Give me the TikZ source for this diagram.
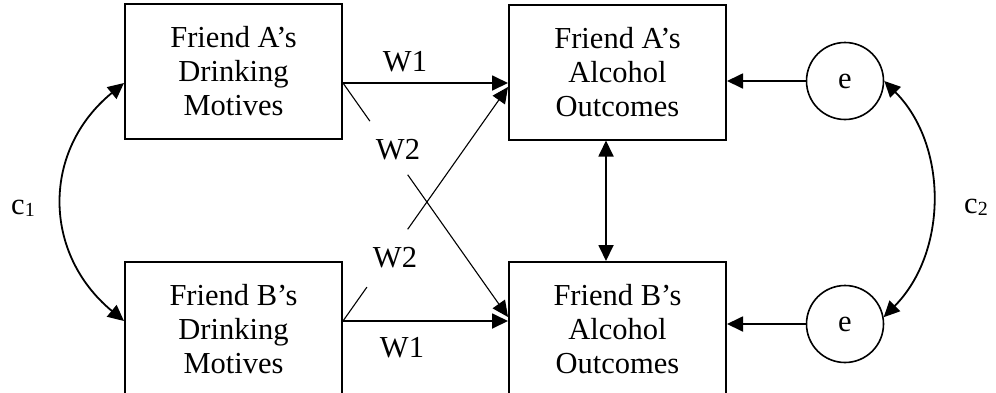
\documentclass[tikz,border=0pt]{standalone}
\usepackage{fontspec}
\setmainfont{Liberation Serif}
\usetikzlibrary{arrows.meta,calc}
\begin{document}
\begin{tikzpicture}[x=1pt,y=-1pt,
  txt/.style={font=\fontsize{30.5}{34}\selectfont},
  box/.style={txt,draw,line width=2pt,minimum width=217pt,minimum height=135pt,align=center,inner sep=0pt},
  err/.style={txt,draw,circle,line width=1.6pt,minimum size=77pt,inner sep=0pt},
  lbl/.style={txt,inner sep=0pt},
  tip/.tip={Triangle[length=16pt,width=15pt]},
  arr/.style={line width=1.8pt,-tip},
  dbl/.style={line width=1.8pt,tip-tip},
  thinarr/.style={line width=1.1pt,-tip},
  thinline/.style={line width=1.1pt}]
\useasboundingbox (0,0) rectangle (996,392);
\clip (0,0) rectangle (996,392);

% observed variables
\node[box] (A) at (233.5,71.5) {Friend A’s\\Drinking\\Motives};
\node[box] (B) at (233.5,329.5) {Friend B’s\\Drinking\\Motives};
\node[box] (C) at (617.5,72) {Friend A’s\\Alcohol\\Outcomes};
\node[box] (D) at (617.5,329.5) {Friend B’s\\Alcohol\\Outcomes};

% residuals
\node[err] (eA) at (845,81) {e};
\node[err] (eB) at (845,324) {e};

% path labels
\node[lbl] (w1a) at (405,62) {W1};
\node[lbl] (w2a) at (398,150) {W2};
\node[lbl] (w2b) at (395,258) {W2};
\node[lbl] (w1b) at (402,348) {W1};
\node[lbl] (c1) at (23,208) {c\raisebox{-2pt}{\fontsize{20}{20}\selectfont 1}};
\node[lbl] (c2) at (976,207) {c\raisebox{-2pt}{\fontsize{20}{20}\selectfont 2}};

% attachment points
\coordinate (Aout) at (A.east |- 0,83);
\coordinate (Bout) at (B.east |- 0,321);
\coordinate (Ain) at (A.west |- 0,83);
\coordinate (Bin) at (B.west |- 0,321);
\coordinate (Cin) at (C.west |- 0,83);
\coordinate (Din) at (D.west |- 0,321);
\coordinate (Cx) at (C.west |- 0,87);
\coordinate (Dx) at (D.west |- 0,317);
\coordinate (vx) at (606,0);

% actor and partner effects
\draw[arr] (Aout) -- (Cin);
\draw[arr] (Bout) -- (Din);
\draw[thinline] (Aout) -- ($(Aout)!0.163!(Dx)$);
\draw[thinarr] ($(Aout)!0.392!(Dx)$) -- (Dx);
\draw[thinline] (Bout) -- ($(Bout)!0.145!(Cx)$);
\draw[thinarr] ($(Bout)!0.392!(Cx)$) -- (Cx);

% residual paths
\draw[arr] (eA.west) -- (eA.west -| C.east);
\draw[arr] (eB.west) -- (eB.west -| D.east);

% covariances
\draw[dbl] (C.south -| vx) -- (D.north -| vx);
\draw[dbl] (Ain) .. controls (42,150) and (42,253) .. (Bin);
\draw[dbl] (eA.east) .. controls (948,145) and (948,252) .. (eB.10);
\end{tikzpicture}
\end{document}
